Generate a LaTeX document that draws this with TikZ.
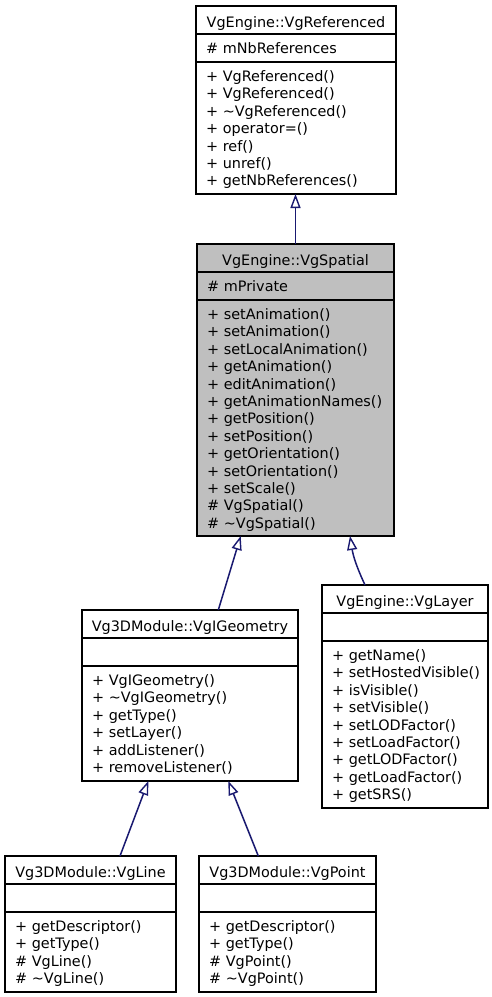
\documentclass[tikz,border=0pt]{standalone}
\usepackage{fontspec}
\setmainfont{DejaVu Sans}
\usetikzlibrary{arrows.meta}
\definecolor{edgeblue}{HTML}{191970}
\definecolor{boxgray}{HTML}{BFBFBF}
\tikzset{
  umlbox/.style={draw=black, line width=1.3pt, inner sep=0pt, outer sep=0pt, anchor=north west},
  sepline/.style={draw=black, line width=1.3pt},
  titletext/.style={anchor=base, inner sep=0pt, font=\fontsize{14.4}{17}\selectfont},
  membertext/.style={anchor=base west, inner sep=0pt, font=\fontsize{14.4}{17}\selectfont},
  inherit/.style={draw=edgeblue, line width=1.5pt, -{Triangle[open, length=14pt, width=10pt, line width=1.4pt]}},
}
% #1 name, #2 x1, #3 x2, #4 top, #5 bottom, #6 fill, #7 title, #8 members
\newcommand\umlclass[8]{%
  \node[umlbox, fill=#6, minimum width={(#3-#2)*1pt}, minimum height={(#5-#4)*1pt}] (#1) at (#2,#4) {};
  \draw[sepline] ([yshift=-28pt]#1.north west) -- ([yshift=-28pt]#1.north east);
  \draw[sepline] ([yshift=-56pt]#1.north west) -- ([yshift=-56pt]#1.north east);
  \node[titletext] (#1-t) at ([yshift=-21pt]#1.north) {#7};
  \foreach \m [count=\k from 0] in {#8} {
    \node[membertext] (#1-m\k) at ([xshift=10pt, yshift={-(75.5+17.4*\k)*1pt}]#1.north west) {\m};
  }
}
\begin{document}
\begin{tikzpicture}[x=1pt, y=-1pt]
\fill[white] (0,0) rectangle (492,997);
\useasboundingbox (0,0) rectangle (492,997);

\umlclass{ref}{196}{396}{6}{194}{white}{VgEngine::VgReferenced}{%
  + VgReferenced(), + VgReferenced(), + \textasciitilde VgReferenced(), + operator=(), + ref(), + unref(), + getNbReferences()}
\node[membertext] (ref-a) at ([xshift=10pt, yshift=-47.5pt]ref.north west) {\# mNbReferences};

\umlclass{spa}{197}{394}{244}{536}{boxgray}{VgEngine::VgSpatial}{%
  + setAnimation(), + setAnimation(), + setLocalAnimation(), + getAnimation(), + editAnimation(), + getAnimationNames(), + getPosition(), + setPosition(), + getOrientation(), + setOrientation(), + setScale(), \# VgSpatial(), \# \textasciitilde VgSpatial()}
\node[membertext] (spa-a) at ([xshift=10pt, yshift=-47.5pt]spa.north west) {\# mPrivate};

\umlclass{geo}{82}{298}{610}{781}{white}{Vg3DModule::VgIGeometry}{%
  + VgIGeometry(), + \textasciitilde VgIGeometry(), + getType(), + setLayer(), + addListener(), + removeListener()}

\umlclass{lay}{322}{488}{585}{808}{white}{VgEngine::VgLayer}{%
  + getName(), + setHostedVisible(), + isVisible(), + setVisible(), + setLODFactor(), + setLoadFactor(), + getLODFactor(), + getLoadFactor(), + getSRS()}

\umlclass{line}{5}{176}{856}{992}{white}{Vg3DModule::VgLine}{%
  + getDescriptor(), + getType(), \# VgLine(), \# \textasciitilde VgLine()}

\umlclass{point}{199}{376}{856}{992}{white}{Vg3DModule::VgPoint}{%
  + getDescriptor(), + getType(), \# VgPoint(), \# \textasciitilde VgPoint()}

\draw[inherit] (spa.north) -- (spa.north |- ref.south);
\draw[inherit] ([xshift=136.3pt]geo.north west) -- ([xshift=43.7pt]spa.south west);
\draw[inherit] ([xshift=43pt]lay.north west) to[bend left=8] ([xshift=153pt]spa.south west);
\draw[inherit] ([xshift=115pt]line.north west) -- ([xshift=66.3pt]geo.south west);
\draw[inherit] ([xshift=59.3pt]point.north west) -- ([xshift=146.3pt]geo.south west);
\end{tikzpicture}
\end{document}
